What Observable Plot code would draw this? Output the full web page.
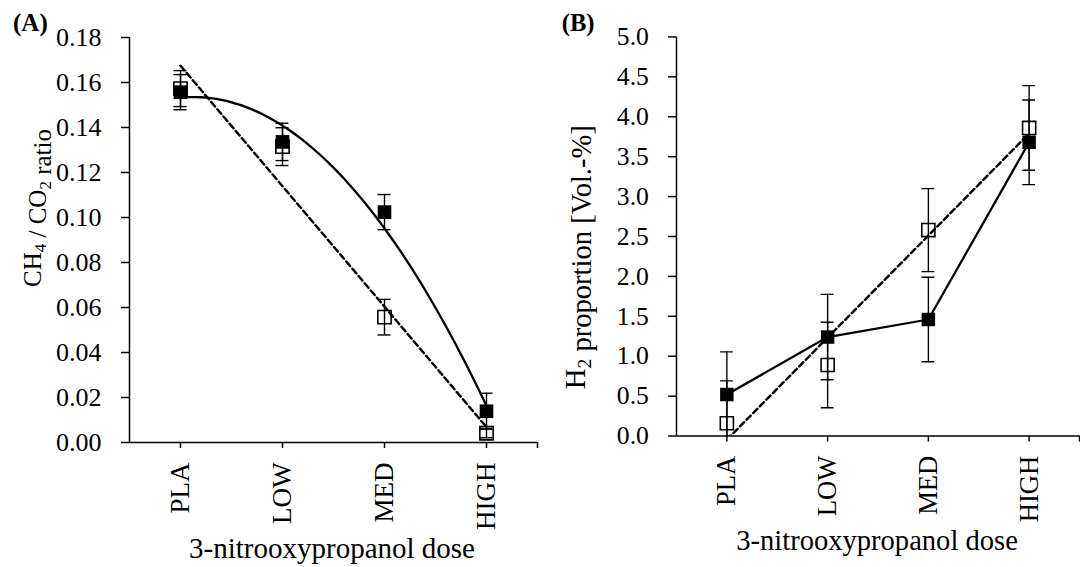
<!DOCTYPE html>
<html>
<head>
<meta charset="utf-8">
<script src="https://cdn.jsdelivr.net/npm/d3@7"></script>
<script src="https://cdn.jsdelivr.net/npm/@observablehq/plot@0.6"></script>
<style>
  body { margin: 0; background: #fff; width: 1080px; height: 567px; position: relative; overflow: hidden; }
  #panelA, #panelB { position: absolute; top: 0; }
  #panelA { left: 0; }
  #panelB { left: 540px; }
</style>
</head>
<body>
<div id="panelA"></div>
<div id="panelB"></div>
<script>
// Dose groups on the x axis
const categories = ["PLA", "LOW", "MED", "HIGH"];

// (A) CH4 / CO2 ratio: filled and open series, means and error half-widths
const ratioFilled    = [0.1557, 0.1336, 0.1024, 0.0139];
const ratioFilledErr = [0.0078, 0.0083, 0.0078, 0.0080];
const ratioOpen      = [0.1573, 0.1315, 0.0557, 0.0041];
const ratioOpenErr   = [0.0080, 0.0084, 0.0079, 0.0020];

// (B) H2 proportion [Vol.-%]
const h2Filled    = [0.52, 1.24, 1.46, 3.68];
const h2FilledErr = [0.534, 0.535, 0.53, 0.53];
const h2Open      = [0.16, 0.89, 2.58, 3.86];
const h2OpenErr   = [0.531, 0.535, 0.52, 0.53];

// Tick values
const yTicksA = [0, 0.02, 0.04, 0.06, 0.08, 0.10, 0.12, 0.14, 0.16, 0.18];
const yTicksB = [0, 0.5, 1.0, 1.5, 2.0, 2.5, 3.0, 3.5, 4.0, 4.5, 5.0];

const FONT = "Liberation Serif";

const toRows = (vals, errs) => categories.map((c, i) => ({cat: c, i, v: vals[i], e: errs[i]}));

// Least-squares polynomial of degree 2 (trend line for the filled series in A)
function polyfit2(xs, ys) {
  const S = k => d3.sum(xs, x => x ** k);
  const T = k => d3.sum(xs, (x, j) => x ** k * ys[j]);
  const M = [[S(0), S(1), S(2), T(0)], [S(1), S(2), S(3), T(1)], [S(2), S(3), S(4), T(2)]];
  for (let c = 0; c < 3; c++) {
    for (let r = c + 1; r < 3; r++) {
      const f = M[r][c] / M[c][c];
      for (let k = c; k < 4; k++) M[r][k] -= f * M[c][k];
    }
  }
  const coef = [0, 0, 0];
  for (let r = 2; r >= 0; r--) {
    let s = M[r][3];
    for (let k = r + 1; k < 3; k++) s -= M[r][k] * coef[k];
    coef[r] = s / M[r][r];
  }
  return x => coef[0] + coef[1] * x + coef[2] * x * x;
}

function errorBars(rows) {
  const style = {stroke: "black", strokeWidth: 1.4, clip: true};
  return [
    Plot.ruleX(rows, {x: "i", y1: d => d.v - d.e, y2: d => d.v + d.e, ...style}),
    Plot.ruleY(rows, {x1: "i", x2: "i", y: d => d.v + d.e, insetLeft: -6.5, insetRight: -6.5, ...style}),
    Plot.ruleY(rows, {x1: "i", x2: "i", y: d => d.v - d.e, insetLeft: -6.5, insetRight: -6.5, ...style})
  ];
}

function axes(yTicks, fmt) {
  return [
    Plot.ruleX([-0.5], {stroke: "black", strokeWidth: 1.5}),
    Plot.ruleY([0], {stroke: "black", strokeWidth: 1.5}),
    Plot.axisY({ticks: yTicks, tickFormat: d3.format(fmt), tickSize: 8, tickPadding: 20, label: null,
                strokeWidth: 1.5, fontSize: 26}),
    Plot.axisX({ticks: [0, 1, 2, 3, 3.5], tickFormat: d => categories[d] ?? "", tickRotate: -90,
                tickSize: 6, tickPadding: 14, label: null, strokeWidth: 1.5, fontSize: 27})
  ];
}

function addText(svg, {x, y, rotate = 0, anchor = "middle", weight = "normal", size = 25, parts}) {
  const t = d3.select(svg).append("text")
    .attr("transform", `translate(${x},${y}) rotate(${rotate})`)
    .attr("text-anchor", anchor)
    .attr("font-family", FONT)
    .attr("font-size", size)
    .attr("font-weight", weight)
    .attr("fill", "black");
  for (const p of parts) {
    if (typeof p === "string") t.append("tspan").text(p);
    else t.append("tspan").attr("font-size", Math.round(size * 0.68)).attr("dy", p.dy).text(p.t);
  }
}

const common = {
  height: 567, marginTop: 37, marginBottom: 125,
  x: {domain: [-0.5, 3.5]},
  style: {fontFamily: FONT, fontSize: "26px", color: "black", background: "white", overflow: "visible"}
};

// ---- Panel A ----
const rowsAF = toRows(ratioFilled, ratioFilledErr);
const rowsAO = toRows(ratioOpen, ratioOpenErr);
const fitA = polyfit2(rowsAF.map(d => d.i), rowsAF.map(d => d.v));
const curveA = d3.range(0, 3.0001, 0.05).map(x => ({x, y: fitA(x)}));

const plotA = Plot.plot({
  ...common,
  width: 540, marginLeft: 129, marginRight: 3,
  y: {domain: [0, 0.18]},
  marks: [
    ...axes(yTicksA, ".2f"),
    ...errorBars(rowsAO),
    Plot.dot(rowsAO, {x: "i", y: "v", symbol: "square", r: 7.5, fill: "none", stroke: "black", strokeWidth: 1.6}),
    Plot.linearRegressionY(rowsAO, {x: "i", y: "v", ci: 0, stroke: "black", strokeWidth: 2.5, strokeDasharray: "6,3.5"}),
    ...errorBars(rowsAF),
    Plot.dot(rowsAF, {x: "i", y: "v", symbol: "square", r: 7.7, fill: "black"}),
    Plot.line(curveA, {x: "x", y: "y", stroke: "black", strokeWidth: 2.3, curve: "linear"})
  ]
});
document.getElementById("panelA").appendChild(plotA);
addText(plotA, {x: 13, y: 31, anchor: "start", weight: "bold", parts: ["(A)"]});
addText(plotA, {x: 332, y: 558, size: 29, parts: ["3-nitrooxypropanol dose"]});
addText(plotA, {x: 41, y: 208, rotate: -90, size: 25,
  parts: ["CH", {t: "4", dy: "0.3em"}, {t: "", dy: "-0.3em"}, " / CO", {t: "2", dy: "0.3em"}, {t: "", dy: "-0.3em"}, " ratio"]});

// ---- Panel B ----
const rowsBF = toRows(h2Filled, h2FilledErr);
const rowsBO = toRows(h2Open, h2OpenErr);

const plotB = Plot.plot({
  ...common,
  width: 548, marginLeft: 138, marginRight: 1,
  y: {domain: [0, 5]},
  marks: [
    ...axes(yTicksB, ".1f"),
    ...errorBars(rowsBO),
    Plot.dot(rowsBO, {x: "i", y: "v", symbol: "square", r: 7.5, fill: "none", stroke: "black", strokeWidth: 1.6}),
    Plot.linearRegressionY(rowsBO, {x: "i", y: "v", ci: 0, stroke: "black", strokeWidth: 2.5, strokeDasharray: "6,3.5", clip: true}),
    ...errorBars(rowsBF),
    Plot.line(rowsBF, {x: "i", y: "v", stroke: "black", strokeWidth: 2.3}),
    Plot.dot(rowsBF, {x: "i", y: "v", symbol: "square", r: 7.7, fill: "black"})
  ]
});
document.getElementById("panelB").appendChild(plotB);
addText(plotB, {x: 22, y: 31, anchor: "start", weight: "bold", parts: ["(B)"]});
addText(plotB, {x: 342, y: 558, size: 29, parts: ["3-nitrooxypropanol dose"]});
addText(plotB, {x: 46, y: 261, rotate: -90, size: 29,
  parts: ["H", {t: "2", dy: "0.3em"}, {t: "", dy: "-0.3em"}, " proportion [Vol.-%]"]});
</script>
</body>
</html>
